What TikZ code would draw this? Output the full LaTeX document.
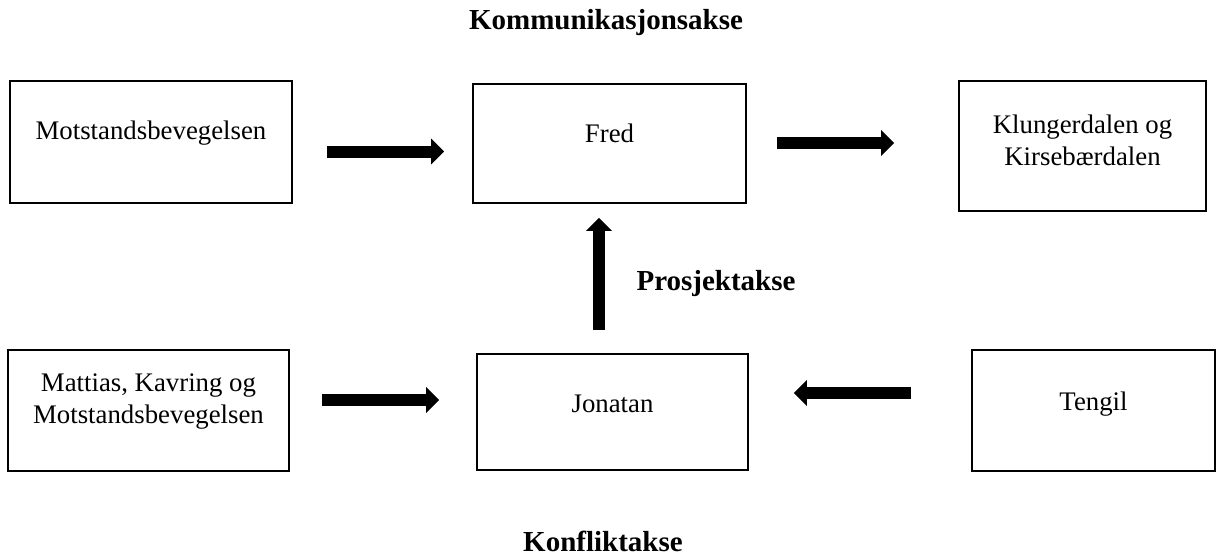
\documentclass[tikz,border=0pt]{standalone}
\usepackage{fontspec}
\setmainfont{Liberation Serif}
\usetikzlibrary{arrows.meta}

\tikzset{
  box/.style={draw,line width=0.8pt,inner sep=0pt},
  inbox/.style={align=center,font=\fontsize{13.4}{16}\selectfont},
  axis/.style={font=\bfseries\fontsize{14.5}{17}\selectfont},
  fat/.style={line width=6pt,-{Triangle[width=12.5pt,length=6.5pt]}}
}

\begin{document}
\begin{tikzpicture}[x=0.5pt,y=-0.5pt]
\useasboundingbox (0,0) rectangle (1218,556);
% The boxes
\node[box,minimum width=141pt,minimum height=61pt,
  label={[inbox,yshift=4.5pt]center:Motstandsbevegelsen}] (mot) at (151,142) {};
\node[box,minimum width=136.5pt,minimum height=59.5pt,
  label={[inbox,yshift=5pt]center:Fred}] (fred) at (609.5,143.5) {};
\node[box,minimum width=123.5pt,minimum height=65pt,
  label={[inbox,yshift=3pt]center:Klungerdalen og\\Kirsebærdalen}] (klu) at (1082.5,146) {};
\node[box,minimum width=140.5pt,minimum height=60.5pt,
  label={[inbox,yshift=4.5pt]center:Mattias, Kavring og\\Motstandsbevegelsen}] (mat) at (148.5,410.5) {};
\node[box,minimum width=135.5pt,minimum height=58pt,
  label={[inbox,yshift=4pt]center:Jonatan}] (jon) at (612.5,412) {};
\node[box,minimum width=121.5pt,minimum height=60.5pt,
  label={[inbox,yshift=3.25pt]center:Tengil}] (ten) at (1093.5,410.5) {};
% The axis names
\node[axis] (kom) at (606,23) {Kommunikasjonsakse};
\node[axis] (pro) at (716,284) {Prosjektakse};
\node[axis] (kon) at (603,541) {Konfliktakse};
% The arrows
\draw[fat] ([shift={(34,9.5)}]mot.east) -- ([shift={(-28,8)}]fred.west);
\draw[fat] ([shift={(30,-0.5)}]fred.east) -- ([shift={(-64,-3)}]klu.west);
\draw[fat] ([shift={(-13.5,-23)}]jon.north) -- ([shift={(-10.5,14)}]fred.south);
\draw[fat] ([shift={(32,-10.5)}]mat.east) -- ([shift={(-37,-12)}]jon.west);
\draw[fat] ([shift={(-60,-17.5)}]ten.west) -- ([shift={(45,-19)}]jon.east);
\end{tikzpicture}
\end{document}
